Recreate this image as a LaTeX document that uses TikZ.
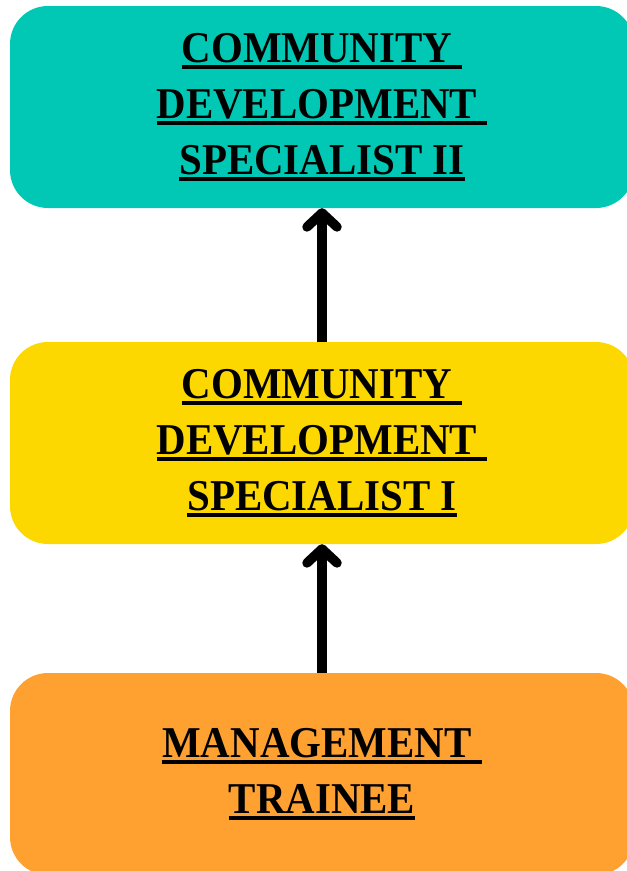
\documentclass[tikz,border=0pt]{standalone}
\usepackage{fontspec}
\setmainfont{Liberation Serif}[FakeStretch=0.93]
\usetikzlibrary{arrows.meta}
\definecolor{boxteal}{RGB}{0,200,180}
\definecolor{boxyellow}{RGB}{252,216,0}
\definecolor{boxorange}{RGB}{255,161,48}
\newcommand\ulbox[1]{\setbox0=\hbox{#1}\rlap{\rule[-6pt]{\wd0}{3.5pt}}\box0}
\tikzset{
  rolebox/.style={rectangle, rounded corners=38pt, minimum width=624pt, minimum height=202pt,
    inner sep=0pt, align=center, font=\fontsize{44}{56}\selectfont\bfseries},
  uparrow/.style={line width=9.5pt, -{Straight Barb[round,length=14pt 0,width=30pt 0]}}
}
\begin{document}
\begin{tikzpicture}[x=1pt,y=-1pt]
\useasboundingbox (0,0) rectangle (627,871);
\begin{scope}
\clip (0,0) rectangle (627,871);
\node[rolebox, fill=boxteal] (top) at (322,107)
  {\ulbox{COMMUNITY }\\\ulbox{DEVELOPMENT }\\\ulbox{SPECIALIST II}};
\node[rolebox, fill=boxyellow] (mid) at (322,443)
  {\ulbox{COMMUNITY }\\\ulbox{DEVELOPMENT }\\\ulbox{SPECIALIST I}};
\node[rolebox, fill=boxorange] (bot) at (322,774)
  {\ulbox{MANAGEMENT }\\\ulbox{TRAINEE}};
\end{scope}
\draw[uparrow] (mid.north) -- (top.south);
\draw[uparrow] (bot.north) -- (mid.south);
\end{tikzpicture}
\end{document}
